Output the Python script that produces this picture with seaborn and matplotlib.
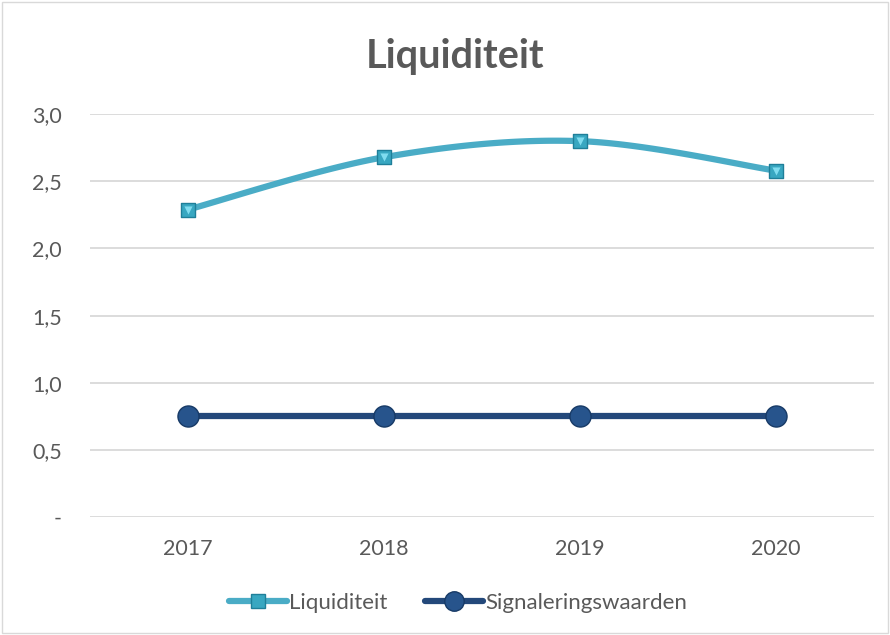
import numpy as np
import pandas as pd
import matplotlib
matplotlib.use("Agg")
import matplotlib.pyplot as plt
import seaborn as sns
from matplotlib.lines import Line2D
from matplotlib.patches import Rectangle

years = ["2017", "2018", "2019", "2020"]
liquiditeit = [2.29, 2.68, 2.80, 2.58]
signalering = [0.75, 0.75, 0.75, 0.75]
yticks = [0.0, 0.5, 1.0, 1.5, 2.0, 2.5, 3.0]
ytick_labels = ["-", "0,5", "1,0", "1,5", "2,0", "2,5", "3,0"]

sns.set_theme(style="white")
plt.rcParams['font.family'] = ['Lato', 'DejaVu Sans']

c_liq = "#4aacc6"
c_sig = "#23487a"
grey = "#595959"

fig = plt.figure(figsize=(8.9, 6.35), dpi=100)
ax = fig.add_axes([0.101, 0.186, 0.881, 0.634])

x = np.arange(len(years))
df = pd.DataFrame({"x": x, "Liquiditeit": liquiditeit, "Signaleringswaarden": signalering})

# Smooth (Catmull-Rom, Excel-like) curve for Liquiditeit
def smooth(xs, ys, n=40):
    xs = np.asarray(xs, float); ys = np.asarray(ys, float)
    P = np.column_stack([xs, ys])
    P = np.vstack([P[0], P, P[-1]])
    out = []
    for i in range(1, len(P) - 2):
        p0, p1, p2, p3 = P[i-1], P[i], P[i+1], P[i+2]
        c1 = p1 + (p2 - p0) / 6
        c2 = p2 - (p3 - p1) / 6
        t = np.linspace(0, 1, n)[:, None]
        b = (1-t)**3*p1 + 3*(1-t)**2*t*c1 + 3*(1-t)*t**2*c2 + t**3*p2
        out.append(b if i == 1 else b[1:])
    return np.vstack(out)

sm = smooth(x, liquiditeit)
sm_df = pd.DataFrame({"x": sm[:, 0], "y": sm[:, 1]})

for yv in yticks:
    ax.axhline(yv, color="#d9d9d9", lw=1.3, zorder=0)

sns.lineplot(data=sm_df, x="x", y="y", ax=ax, color=c_liq, lw=4.5, sort=False, zorder=3)
sns.scatterplot(data=df, x="x", y="Liquiditeit", ax=ax, marker="s", s=100, color="#38a7c1",
                edgecolor="#1f7f99", linewidth=1.0, zorder=4)
sns.scatterplot(data=df, x="x", y="Liquiditeit", ax=ax, marker="v", s=34, color="#7fdcef",
                linewidth=0, zorder=5)
sns.lineplot(data=df, x="x", y="Signaleringswaarden", ax=ax, color=c_sig, lw=4.5, zorder=3)
sns.scatterplot(data=df, x="x", y="Signaleringswaarden", ax=ax, marker="o", s=230, color="#27548c",
                edgecolor="#173a66", linewidth=1.0, zorder=4)

ax.set_xlim(-0.5, 3.5)
ax.set_ylim(0, 3.0)
ax.set_xticks(x)
ax.set_xticklabels(years)
ax.set_yticks(yticks)
ax.set_yticklabels(ytick_labels)
ax.tick_params(axis="both", length=0, labelsize=15.5, colors=grey)
ax.tick_params(axis="x", pad=16)
ax.tick_params(axis="y", pad=20)
ax.set_xlabel("")
ax.set_ylabel("")
for s in ax.spines.values():
    s.set_visible(False)
ax.patch.set_alpha(0)

fig.text(0.511, 0.893, "Liquiditeit", ha="center", va="baseline", fontsize=28.5,
         fontweight="bold", color=grey)

handles = [
    Line2D([0], [0], color=c_liq, lw=4.5, marker="s", markersize=10,
           markerfacecolor="#38a7c1", markeredgecolor="#1f7f99"),
    Line2D([0], [0], color=c_sig, lw=4.5, marker="o", markersize=14,
           markerfacecolor="#27548c", markeredgecolor="#173a66"),
]
fig.legend(handles, ["Liquiditeit", "Signaleringswaarden"], loc="center",
           bbox_to_anchor=(0.515, 0.05), ncol=2, frameon=False, fontsize=16,
           labelcolor=grey, handlelength=2.6, handletextpad=0.1, columnspacing=1.7)

fig.patches.append(Rectangle((0.002, 0.003), 0.996, 0.994, transform=fig.transFigure,
                             fill=False, edgecolor="#d9d9d9", lw=1))

fig.savefig("out.png", dpi=100)
